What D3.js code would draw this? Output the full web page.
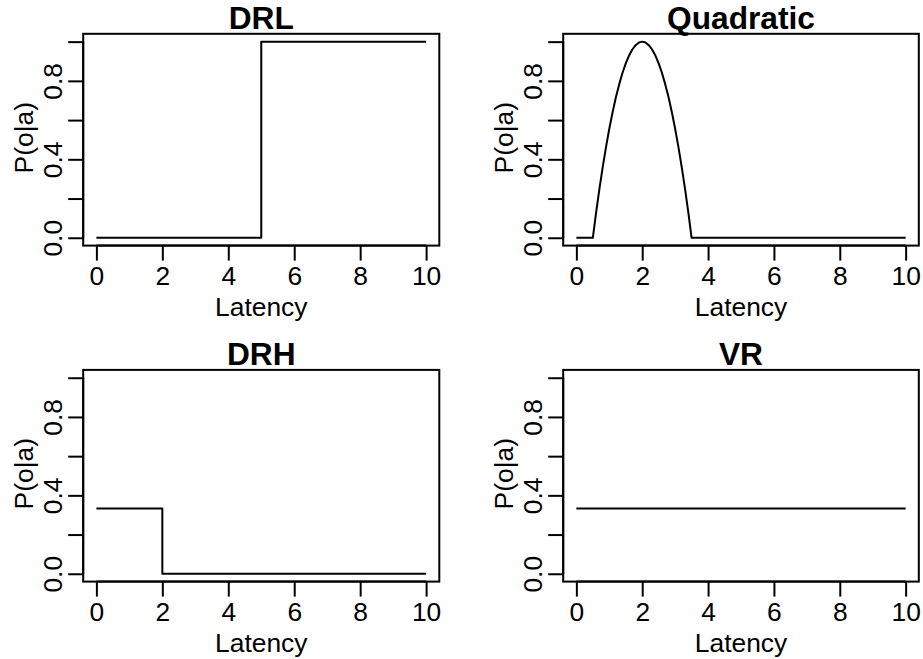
<!DOCTYPE html>
<html>
<head>
<meta charset="utf-8">
<script src="https://cdn.jsdelivr.net/npm/d3@7"></script>
<style>
  html, body { margin: 0; padding: 0; background: #fff; }
  svg { display: block; }
  text { font-family: "Liberation Sans", Arial, Helvetica, sans-serif; fill: #000; }
</style>
</head>
<body>
<svg id="chart" width="923" height="659"></svg>
<script>
// Outcome probability as a function of response latency, one schedule per panel.
const panelTitles = ["DRL", "Quadratic", "DRH", "VR"];

const drlLatency = [0, 5, 5, 10];
const drlProb    = [0, 0, 1, 1];

const quadLatency = [0, 0.5, 0.6, 0.7, 0.8, 0.9, 1.0, 1.1, 1.2, 1.3, 1.4, 1.5, 1.6, 1.7, 1.8, 1.9, 2.0,
                     2.1, 2.2, 2.3, 2.4, 2.5, 2.6, 2.7, 2.8, 2.9, 3.0, 3.1, 3.2, 3.3, 3.4, 3.5, 10];
const quadProb    = [0, 0, 0.129, 0.249, 0.36, 0.462, 0.556, 0.64, 0.716, 0.782, 0.84, 0.889, 0.929, 0.96, 0.982, 0.996, 1,
                     0.996, 0.982, 0.96, 0.929, 0.889, 0.84, 0.782, 0.716, 0.64, 0.556, 0.462, 0.36, 0.249, 0.129, 0, 0];

const drhLatency = [0, 2, 2, 10];
const drhProb    = [0.333, 0.333, 0, 0];

const vrLatency = [0, 10];
const vrProb    = [0.333, 0.333];

const xTicks = [0, 2, 4, 6, 8, 10];
const yTicks = [0, 0.2, 0.4, 0.6, 0.8, 1.0];
const yTickLabels = { 0: "0.0", 0.4: "0.4", 0.8: "0.8" };
const xLabel = "Latency";
const yLabel = "P(o|a)";

const series = [
  { x: drlLatency,  y: drlProb },
  { x: quadLatency, y: quadProb },
  { x: drhLatency,  y: drhProb },
  { x: vrLatency,   y: vrProb }
];

// Plot-region boxes for the 2x2 layout
const boxes = [
  { left: 83.2,  right: 439.3, top: 33.8,  bottom: 245.6 },
  { left: 563.2, right: 918.8, top: 33.8,  bottom: 245.6 },
  { left: 83.2,  right: 439.3, top: 369.9, bottom: 581.6 },
  { left: 563.2, right: 918.8, top: 369.9, bottom: 581.6 }
];

const svg = d3.select("#chart");
const fontSize = 26.4;
const titleSize = 31.7;
const fontFamily = "'Liberation Sans', Arial, sans-serif";

series.forEach((s, i) => {
  const b = boxes[i];
  // 4% padding on each side of the data range
  const x = d3.scaleLinear().domain([-0.4, 10.4]).range([b.left, b.right]);
  const y = d3.scaleLinear().domain([-0.04, 1.04]).range([b.bottom, b.top]);

  const g = svg.append("g");

  // data line
  const pts = s.x.map((v, k) => [v, s.y[k]]);
  g.append("path")
    .datum(pts)
    .attr("fill", "none")
    .attr("stroke", "#000")
    .attr("stroke-width", 2)
    .attr("stroke-linejoin", "round")
    .attr("d", d3.line().x(d => x(d[0])).y(d => y(d[1])));

  // x axis
  const xa = g.append("g")
    .attr("transform", `translate(0,${b.bottom})`)
    .call(d3.axisBottom(x).tickValues(xTicks).tickSize(15).tickSizeOuter(0).tickPadding(0).tickFormat(d3.format("d")));
  xa.select(".domain").attr("d", `M${x(0)},0H${x(10)}`);
  xa.selectAll("line, path").attr("stroke", "#000").attr("stroke-width", 2);
  xa.selectAll("text")
    .attr("y", 39.4).attr("dy", 0)
    .style("font-size", fontSize + "px")
    .style("font-family", fontFamily)
    .attr("fill", "#000");

  // y axis with rotated labels
  const ya = g.append("g")
    .attr("transform", `translate(${b.left},0)`)
    .call(d3.axisLeft(y).tickValues(yTicks).tickSize(15).tickSizeOuter(0)
      .tickFormat(d => yTickLabels[Math.round(d * 10) / 10] || ""));
  ya.select(".domain").attr("d", `M0,${y(0)}V${y(1)}`);
  ya.selectAll("line, path").attr("stroke", "#000").attr("stroke-width", 2);
  ya.selectAll("text")
    .attr("x", null).attr("dy", 0)
    .attr("transform", "translate(-21,0) rotate(-90)")
    .attr("text-anchor", "middle")
    .style("font-size", fontSize + "px")
    .style("font-family", fontFamily)
    .attr("fill", "#000");

  // plot box
  g.append("rect")
    .attr("x", b.left).attr("y", b.top)
    .attr("width", b.right - b.left).attr("height", b.bottom - b.top)
    .attr("fill", "none").attr("stroke", "#000").attr("stroke-width", 2);

  const cx = (b.left + b.right) / 2;
  const cy = (b.top + b.bottom) / 2;

  // title
  g.append("text")
    .attr("x", cx).attr("y", b.top - 5.3)
    .attr("text-anchor", "middle")
    .style("font-size", titleSize + "px").style("font-weight", "bold")
    .text(panelTitles[i]);

  // axis titles
  g.append("text")
    .attr("x", cx).attr("y", b.bottom + 70)
    .attr("text-anchor", "middle")
    .style("font-size", fontSize + "px")
    .text(xLabel);

  g.append("text")
    .attr("transform", `translate(${b.left - 50},${cy - 2}) rotate(-90)`)
    .attr("text-anchor", "middle")
    .style("font-size", fontSize + "px")
    .text(yLabel);
});
</script>
</body>
</html>
